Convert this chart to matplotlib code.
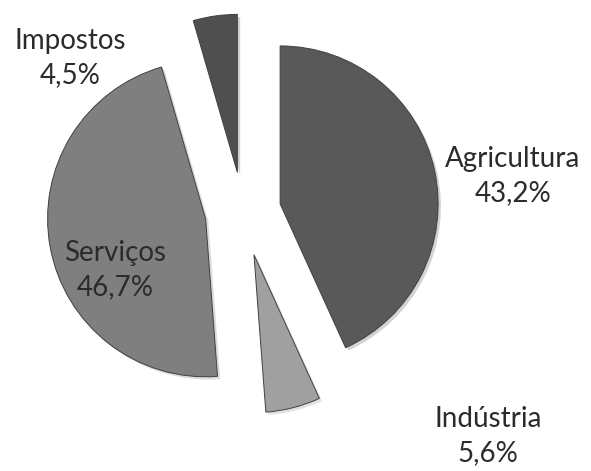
import matplotlib
matplotlib.use('Agg')
import matplotlib.pyplot as plt
import matplotlib.patheffects as pe

sectors = ['Agricultura', 'Indústria', 'Serviços', 'Impostos']
shares = [43.2, 5.6, 46.7, 4.5]
labels = ['Agricultura\n43,2%', 'Indústria\n5,6%', 'Serviços\n46,7%', 'Impostos\n4,5%']
colors = ['#595959', '#a0a0a0', '#7f7f7f', '#4f4f4f']
# pie explode is in data units here (pixels)
explode = [38, 44, 38, 40]

# label positions in pixel space (figure is 591x471)
label_pos = [(513, 176), (488, 436), (115, 270), (70, 58)]

W, H = 591, 471
fig = plt.figure(figsize=(W / 100, H / 100), dpi=100)
ax = fig.add_axes([0, 0, 1, 1])

wedges, _ = ax.pie(shares, explode=explode, colors=colors, startangle=90,
                   counterclock=False, center=(243, H - 212), radius=158,
                   wedgeprops=dict(linewidth=0.7, edgecolor='#404040'))
for w in wedges:
    w.set_path_effects([pe.SimplePatchShadow(offset=(2, -2), alpha=0.25, rho=0.9),
                        pe.Normal()])

for lab, (x, y) in zip(labels, label_pos):
    ax.text(x, H - y, lab, ha='center', va='center', fontsize=20,
            family='Lato', color='#2b2b2b', linespacing=1.35)

ax.set_xlim(0, W)
ax.set_ylim(0, H)
ax.set_aspect('equal')
ax.axis('off')

fig.savefig('out.png', dpi=100)
